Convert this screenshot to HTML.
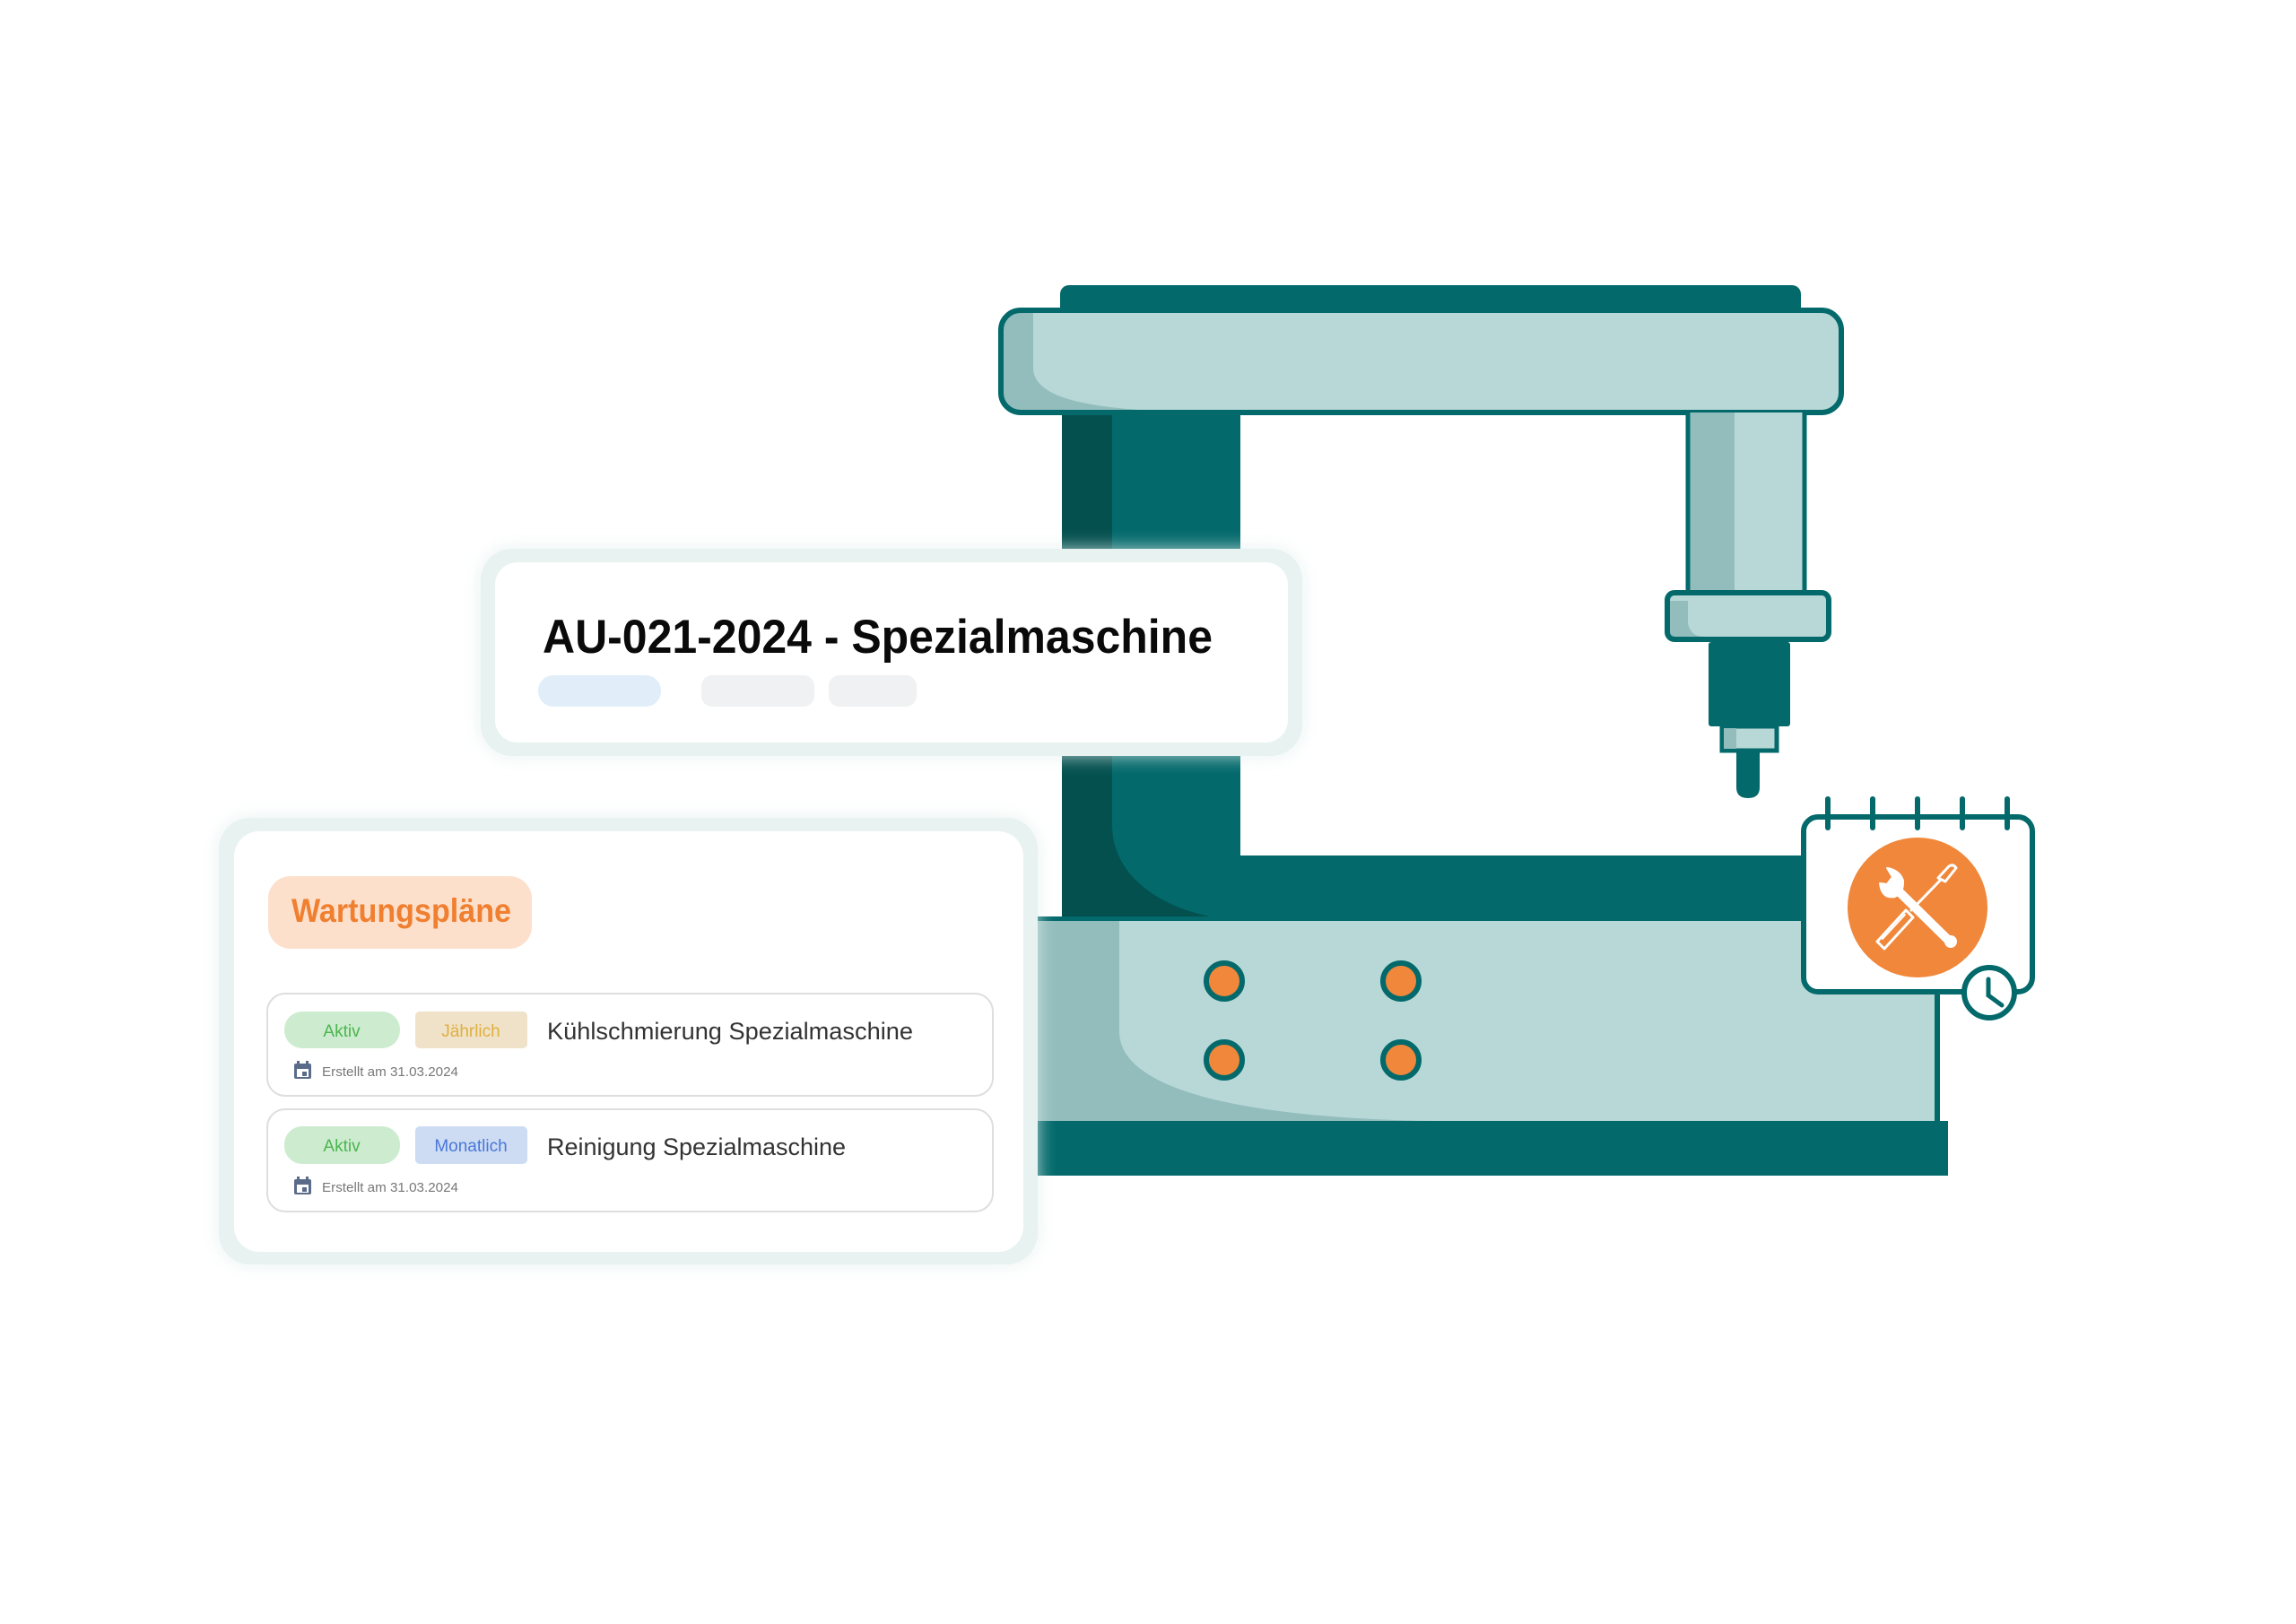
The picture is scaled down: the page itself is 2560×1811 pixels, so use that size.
<!DOCTYPE html>
<html><head><meta charset="utf-8">
<style>
html,body{margin:0;padding:0;background:#fff;}
svg{display:block;}
text{font-family:"Liberation Sans",sans-serif;}
</style></head>
<body>
<svg width="2560" height="1811" viewBox="0 0 2560 1811" xmlns="http://www.w3.org/2000/svg">
<defs>
<filter id="sh" x="-10%" y="-10%" width="120%" height="130%">
<feGaussianBlur stdDeviation="10"/>
</filter>
</defs>
<rect width="2560" height="1811" fill="#fff"/>

<!-- MACHINE -->
<rect x="1182" y="318" width="826" height="40" rx="10" fill="#03696b"/>
<rect x="1184" y="455" width="199" height="575" fill="#03696b"/>
<rect x="1184" y="455" width="56" height="575" fill="#03504f"/>
<path d="M1240 920 C1240 980 1300 1015 1360 1024 L1240 1024 Z" fill="#03504f"/>
<rect x="1380" y="954" width="640" height="75" fill="#03696b"/>
<rect x="1157" y="1022" width="220" height="6" fill="#03696b"/>
<rect x="1157" y="1027" width="1003" height="225" fill="#b8d8d7"/>
<path d="M1157 1027 L1248 1027 L1248 1150 C1248 1230 1450 1248 1600 1250 L1157 1250 Z" fill="#93bdbd"/>
<line x1="2160" y1="1100" x2="2160" y2="1252" stroke="#03696b" stroke-width="6"/>
<rect x="1157" y="1250" width="1015" height="61" fill="#03696b"/>
<g fill="#f0873a" stroke="#03696b" stroke-width="6">
<circle cx="1365" cy="1094" r="20"/>
<circle cx="1562" cy="1094" r="20"/>
<circle cx="1365" cy="1182" r="20"/>
<circle cx="1562" cy="1182" r="20"/>
</g>
<rect x="1116" y="346" width="937" height="114" rx="22" fill="#b8d8d7"/>
<path d="M1119 360 Q1119 346 1135 346 L1152 346 L1152 410 C1152 440 1200 452 1270 457 L1135 457 Q1119 457 1119 440 Z" fill="#93bdbd"/>
<rect x="1116" y="346" width="937" height="114" rx="22" fill="none" stroke="#03696b" stroke-width="6"/>
<rect x="1882" y="460" width="130" height="200" fill="#b8d8d7"/>
<rect x="1882" y="460" width="52" height="200" fill="#93bdbd"/>
<line x1="1882" y1="460" x2="1882" y2="660" stroke="#03696b" stroke-width="5"/>
<line x1="2012" y1="460" x2="2012" y2="660" stroke="#03696b" stroke-width="5"/>
<rect x="1859" y="661" width="180" height="52" rx="8" fill="#b8d8d7"/>
<path d="M1862 670 L1882 670 L1882 695 Q1885 710 1900 710 L1862 710 Z" fill="#93bdbd"/>
<rect x="1859" y="661" width="180" height="52" rx="8" fill="none" stroke="#03696b" stroke-width="6"/>
<rect x="1905" y="716" width="91" height="94" rx="3" fill="#03696b"/>
<rect x="1920" y="810" width="61" height="27" fill="#b8d8d7" stroke="#03696b" stroke-width="5"/>
<rect x="1922" y="812" width="14" height="23" fill="#93bdbd"/>
<path d="M1936 837 L1962 837 L1962 878 Q1962 890 1949 890 Q1936 890 1936 878 Z" fill="#03696b"/>

<!-- CALENDAR -->
<rect x="2011" y="911" width="255" height="195" rx="16" fill="#fff" stroke="#03696b" stroke-width="6"/>
<g stroke="#03696b" stroke-width="6" stroke-linecap="round">
<line x1="2038" y1="891" x2="2038" y2="923"/>
<line x1="2088" y1="891" x2="2088" y2="923"/>
<line x1="2138" y1="891" x2="2138" y2="923"/>
<line x1="2188" y1="891" x2="2188" y2="923"/>
<line x1="2238" y1="891" x2="2238" y2="923"/>
</g>
<circle cx="2138" cy="1012" r="78" fill="#f0873a"/>
<g fill="none" stroke="#fff" stroke-linecap="round" stroke-linejoin="round">
<line x1="2113" y1="990" x2="2172" y2="1048" stroke-width="10"/>
<circle cx="2175" cy="1050" r="6" fill="#fff" stroke-width="2"/>
<path d="M2096 985 Q2098 1003 2113 1000 Q2123 995 2122 982 Q2118 970 2104 968 L2110 978 L2104 986 Z" fill="#fff" stroke-width="2"/>
<path d="M2093 1050 L2125 1015 L2133 1023 L2101 1058 Z" stroke-width="3"/>
<line x1="2099" y1="1047" x2="2124" y2="1020" stroke-width="2"/>
<line x1="2131" y1="1015" x2="2163" y2="982" stroke-width="3"/>
<path d="M2161 979 L2173 966 Q2178 963 2181 968 L2169 983 Z" stroke-width="3"/>
</g>
<circle cx="2218" cy="1107" r="28" fill="#fff" stroke="#03696b" stroke-width="6"/>
<polyline points="2217,1092 2217,1110 2232,1121" fill="none" stroke="#03696b" stroke-width="5" stroke-linecap="round"/>

<!-- TITLE CARD -->
<rect x="536" y="612" width="916" height="231" rx="35" fill="#e3efee" filter="url(#sh)" opacity="0.8"/>
<rect x="536" y="612" width="916" height="231" rx="35" fill="#e8f2f1"/>
<rect x="552" y="627" width="884" height="201" rx="25" fill="#fff"/>
<text x="605" y="728" font-size="53" font-weight="bold" fill="#0a0a0a" textLength="747" lengthAdjust="spacingAndGlyphs">AU-021-2024 - Spezialmaschine</text>
<rect x="600" y="753" width="137" height="35" rx="17" fill="#e1eefa"/>
<rect x="782" y="753" width="126" height="35" rx="12" fill="#f0f1f2"/>
<rect x="924" y="753" width="98" height="35" rx="12" fill="#f0f1f2"/>

<!-- WARTUNG CARD -->
<rect x="244" y="912" width="913" height="498" rx="35" fill="#e3efee" filter="url(#sh)" opacity="0.8"/>
<rect x="244" y="912" width="913" height="498" rx="35" fill="#e8f2f1"/>
<rect x="261" y="927" width="880" height="469" rx="28" fill="#fff"/>
<rect x="299" y="977" width="294" height="81" rx="25" fill="#fce0cc"/>
<text x="325" y="1028" font-size="37" font-weight="600" fill="#f07f30" textLength="245" lengthAdjust="spacingAndGlyphs">Wartungspläne</text>

<rect x="298" y="1108" width="809" height="114" rx="20" fill="#fff" stroke="#dedede" stroke-width="2"/>
<rect x="317" y="1128" width="129" height="41" rx="20" fill="#cdeccf"/>
<text x="381" y="1156" font-size="19" fill="#4cb54f" text-anchor="middle">Aktiv</text>
<rect x="463" y="1128" width="125" height="41" rx="5" fill="#efe2c8"/>
<text x="525" y="1156" font-size="19" fill="#e0b040" text-anchor="middle">Jährlich</text>
<text x="610" y="1159" font-size="27" fill="#333" textLength="408" lengthAdjust="spacingAndGlyphs">Kühlschmierung Spezialmaschine</text>
<g fill="#5b6b8a">
<rect x="328" y="1186" width="19" height="17" rx="2"/>
<rect x="331" y="1192" width="13" height="9" fill="#fff"/>
<rect x="337" y="1195" width="5" height="5"/>
<rect x="331" y="1183" width="3" height="5"/><rect x="341" y="1183" width="3" height="5"/>
</g>
<text x="359" y="1200" font-size="15" fill="#777" textLength="152" lengthAdjust="spacingAndGlyphs">Erstellt am 31.03.2024</text>

<rect x="298" y="1237" width="809" height="114" rx="20" fill="#fff" stroke="#dedede" stroke-width="2"/>
<rect x="317" y="1256" width="129" height="42" rx="20" fill="#cdeccf"/>
<text x="381" y="1284" font-size="19" fill="#4cb54f" text-anchor="middle">Aktiv</text>
<rect x="463" y="1256" width="125" height="42" rx="5" fill="#cddcf3"/>
<text x="525" y="1284" font-size="19" fill="#4a78d8" text-anchor="middle">Monatlich</text>
<text x="610" y="1288" font-size="27" fill="#333" textLength="333" lengthAdjust="spacingAndGlyphs">Reinigung Spezialmaschine</text>
<g fill="#5b6b8a">
<rect x="328" y="1315" width="19" height="17" rx="2"/>
<rect x="331" y="1321" width="13" height="9" fill="#fff"/>
<rect x="337" y="1324" width="5" height="5"/>
<rect x="331" y="1312" width="3" height="5"/><rect x="341" y="1312" width="3" height="5"/>
</g>
<text x="359" y="1329" font-size="15" fill="#777" textLength="152" lengthAdjust="spacingAndGlyphs">Erstellt am 31.03.2024</text>
</svg>
</body></html>
